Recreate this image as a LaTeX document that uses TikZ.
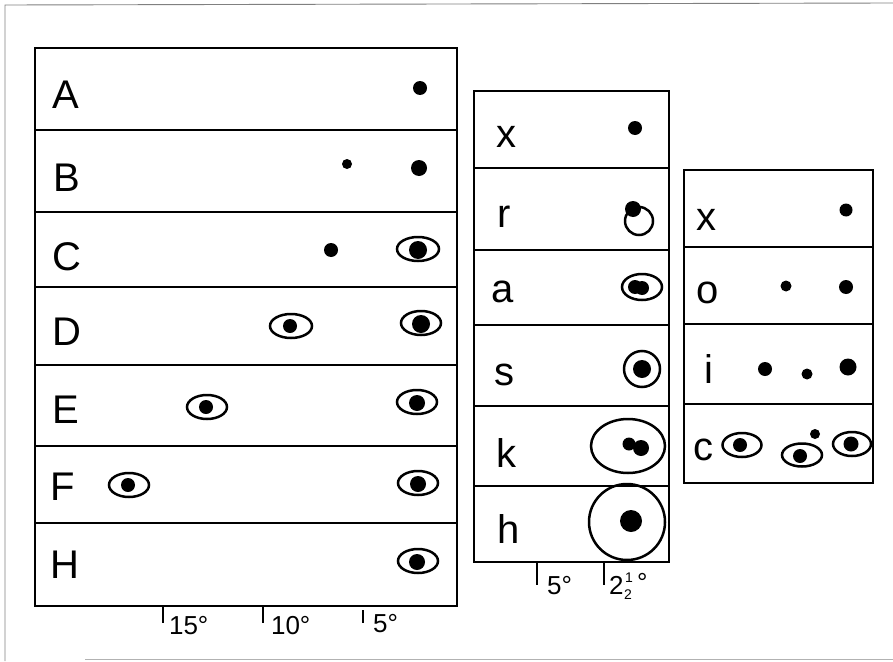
\documentclass[tikz,border=0pt]{standalone}
\usepackage{fontspec}
\setmainfont{Liberation Sans}

\begin{document}
\begin{tikzpicture}[x=1pt, y=-1pt, line width=2.1pt,
    lab/.style={anchor=base west, inner sep=0pt, font=\fontsize{40}{40}\selectfont},
    deg/.style={anchor=base west, inner sep=0pt, font=\fontsize{26}{26}\selectfont},
    frac/.style={anchor=base west, inner sep=0pt, font=\fontsize{14}{14}\selectfont},
    ring/.style={line width=2.5pt},
    tick/.style={line width=2.6pt}]
  \useasboundingbox (0,0) rectangle (893,661);
  % page frame
  \draw[gray, line width=0.9pt] (893,3) -- (5,5) -- (5,661);
  \draw[gray!60, line width=0.9pt] (85,659) -- (893,659);

  % left panel
  \draw (35,48) rectangle (457,606);
  \foreach \y in {130,212,287,365,446,523}
    \draw (35,\y) -- (457,\y);
  \node[lab] (lA) at (51,108) {A};
  \node[lab] (lB) at (52,191) {B};
  \node[lab] (lC) at (51,270) {C};
  \node[lab] (lD) at (51,345) {D};
  \node[lab] (lE) at (51,423) {E};
  \node[lab] (lF) at (49,500) {F};
  \node[lab] (lH) at (49,578) {H};
  % spots, left panel
  \fill (420,88) circle[radius=7];
  \fill (347,164) circle[radius=5];
  \fill (419,168) circle[radius=8];
  \fill (331,250) circle[radius=7];
  \draw[ring] (418,249) ellipse[x radius=21, y radius=12];
  \fill (418,250) circle[radius=9];
  \draw[ring] (291,326) ellipse[x radius=21, y radius=12];
  \fill (290,326) circle[radius=7];
  \draw[ring] (421,323) ellipse[x radius=20, y radius=12];
  \fill (421,324) circle[radius=9];
  \draw[ring] (207,407) ellipse[x radius=20, y radius=12];
  \fill (206,407) circle[radius=7];
  \draw[ring] (417,402) ellipse[x radius=20, y radius=12];
  \fill (417,403) circle[radius=8];
  \draw[ring] (129,485) ellipse[x radius=20, y radius=12];
  \fill (128,485) circle[radius=7];
  \draw[ring] (418,483) ellipse[x radius=20, y radius=12];
  \fill (418,484) circle[radius=8];
  \draw[ring] (418,561) ellipse[x radius=20, y radius=12];
  \fill (417,562) circle[radius=8];
  % scale, left panel
  \draw[tick] (163,605) -- (163,623);
  \draw[tick] (263,605) -- (263,623);
  \draw[tick] (363,610) -- (363,623);
  \node[deg] (t15) at (168,634) {15°};
  \node[deg] (t10) at (270,634) {10°};
  \node[deg] (t5) at (372,632) {5°};

  % middle panel
  \draw (474,91) rectangle (669,562);
  \foreach \y in {168,250,325,406,486}
    \draw (474,\y) -- (669,\y);
  \node[lab] (mx) at (495,147) {x};
  \node[lab] (mr) at (496,227) {r};
  \node[lab] (ma) at (490,302) {a};
  \node[lab] (ms) at (493,385) {s};
  \node[lab] (mk) at (495,467) {k};
  \node[lab] (mh) at (496,543) {h};
  % spots, middle panel
  \fill (635,128) circle[radius=7];
  \draw[ring] (639,221) circle[radius=14];
  \fill (633,209) circle[radius=8];
  \draw[ring] (642,287) ellipse[x radius=20, y radius=13];
  \fill (635,287) circle[radius=7];
  \fill (642,288) circle[radius=7];
  \draw[ring] (642,369) circle[radius=18];
  \fill (642,369) circle[radius=9];
  \draw[ring] (628,446) ellipse[x radius=37, y radius=27];
  \fill (629,444) circle[radius=6.5];
  \fill (641,448) circle[radius=8];
  \draw[ring] (627,522) circle[radius=38];
  \fill (631,521) circle[radius=11];
  % scale, middle panel
  \draw[tick] (537,562) -- (537,585);
  \draw[tick] (604,562) -- (604,585);
  \node[deg] (m5) at (546,594) {5°};
  \node[deg] (m25) at (608,594) {2};
  \node[frac] (m25n) at (624,582) {1};
  \node[frac] (m25d) at (623,599) {2};
  \node[deg] (m25g) at (636,591) {°};

  % right panel
  \draw (684,170) rectangle (873,483);
  \foreach \y in {247,324,404}
    \draw (684,\y) -- (873,\y);
  \node[lab] (rx) at (695,230) {x};
  \node[lab] (ro) at (695,303) {o};
  \node[lab] (ri) at (703,383) {i};
  \node[lab] (rc) at (692,460) {c};
  % spots, right panel
  \fill (846,210) circle[radius=6.5];
  \fill (786,286) circle[radius=5.5];
  \fill (846,287) circle[radius=7];
  \fill (765,369) circle[radius=7];
  \fill (807,374) circle[radius=5.5];
  \fill (848,367) circle[radius=8.5];
  \draw[ring] (742,445) ellipse[x radius=19.5, y radius=12];
  \fill (740,445) circle[radius=7];
  \draw[ring] (802,455) ellipse[x radius=20, y radius=11.5];
  \fill (800,456) circle[radius=7];
  \fill (815,434) circle[radius=5];
  \draw[ring] (852,444) ellipse[x radius=19, y radius=12];
  \fill (851,444) circle[radius=7.5];
\end{tikzpicture}
\end{document}
